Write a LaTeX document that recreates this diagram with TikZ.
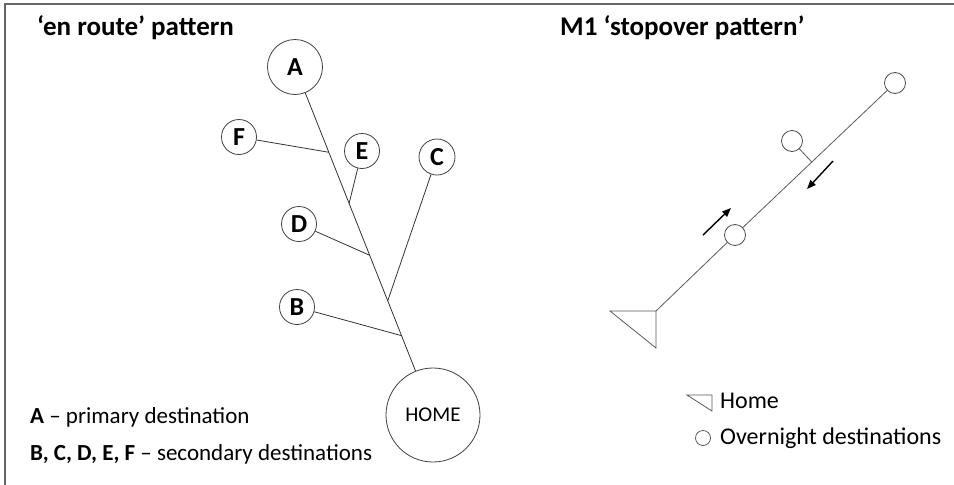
\documentclass[tikz,border=0pt]{standalone}
\usepackage{fontspec}
\setmainfont{Carlito}
\usetikzlibrary{arrows.meta,calc}
\begin{document}
\begin{tikzpicture}[x=1pt,y=-1pt,
  frame/.style={draw=black!60,line width=1.4pt},
  dest/.style={circle,draw=black!75,line width=0.8pt,inner sep=0pt,font=\fontsize{26}{30}\selectfont\bfseries},
  route/.style={draw=black!80,line width=0.8pt},
  stop/.style={circle,draw=black!70,line width=0.8pt,inner sep=0pt,minimum size=21pt},
  srcline/.style={draw=black!65,line width=0.8pt},
  dirarrow/.style={draw=black,line width=1.4pt,-{Triangle[length=9pt,width=7pt]}},
  title/.style={anchor=base west,font=\fontsize{27}{31}\selectfont\bfseries,inner sep=0pt},
  legend/.style={anchor=base west,font=\fontsize{23}{27}\selectfont,inner sep=0pt},
  legendr/.style={anchor=base west,font=\fontsize{24}{28}\selectfont,inner sep=0pt}]
\useasboundingbox (0,0) rectangle (954,485);
% frame
\coordinate (f1) at (5,485);
\coordinate (f2) at (5,4);
\coordinate (f3) at (954,4);
\draw[frame] (f1) -- (f2) -- (f3);

% titles
\node[title] (t1) at (37,35) {‘en route’ pattern};
\node[title] (t2) at (560,35) {M1 ‘stopover pattern’};

% en route pattern
\node[dest,minimum size=55pt] (A) at (295,67) {A};
\node[dest,minimum size=35pt] (F) at (239,137) {F};
\node[dest,minimum size=35pt] (E) at (362,151) {E};
\node[dest,minimum size=36pt] (C) at (437,157) {C};
\node[dest,minimum size=35pt] (D) at (299,224) {D};
\node[dest,minimum size=35pt] (B) at (297,307) {B};
\node[circle,draw=black!75,line width=0.8pt,inner sep=0pt,minimum size=94pt,font=\fontsize{21}{25}\selectfont] (HOME) at (433,415) {HOME};

\draw[route] (A) -- (HOME);
\coordinate (jF) at ($(A)!0.245!(HOME)$);
\coordinate (jE) at ($(A)!0.392!(HOME)$);
\coordinate (jD) at ($(A)!0.541!(HOME)$);
\coordinate (jC) at ($(A)!0.672!(HOME)$);
\coordinate (jB) at ($(A)!0.772!(HOME)$);
\draw[route] (F) -- (jF);
\draw[route] (E) -- (jE);
\draw[route] (D) -- (jD);
\draw[route] (C) -- (jC);
\draw[route] (B) -- (jB);

\node[legend] (l1) at (30,423) {\textbf{A} – primary destination};
\node[legend] (l2) at (30,460) {\textbf{B, C, D, E, F} – secondary destinations};

% stopover pattern
\coordinate (h) at (656,311);
\coordinate (hA) at (610,311);
\coordinate (hB) at (656,348);
\draw[srcline,line join=miter] (hA) -- (h) -- (hB) -- cycle;
\node[stop] (o1) at (735,235) {};
\node[stop] (o2) at (792,141) {};
\node[stop] (o3) at (895,83) {};
\draw[srcline] (h) -- (o1);
\draw[srcline] (o1) -- (o3);
\coordinate (j2) at ($(o1)!0.48!(o3)$);
\draw[srcline] (o2) -- (j2);

\coordinate (up1) at (703,235);
\coordinate (up2) at (731,208);
\coordinate (dn1) at (833,161);
\coordinate (dn2) at (807,189);
\draw[dirarrow] (up1) -- (up2);
\draw[dirarrow] (dn1) -- (dn2);

% legend right
\coordinate (lh) at (712,395);
\coordinate (lhA) at (687,395);
\coordinate (lhB) at (712,411);
\draw[srcline,line join=miter] (lhA) -- (lh) -- (lhB) -- cycle;
\node[legendr] (l3) at (720,408) {Home};
\node[circle,draw=black!70,line width=0.7pt,inner sep=0pt,minimum size=15pt] (lo) at (703,438) {};
\node[legendr] (l4) at (720,444) {Overnight destinations};
\end{tikzpicture}
\end{document}
